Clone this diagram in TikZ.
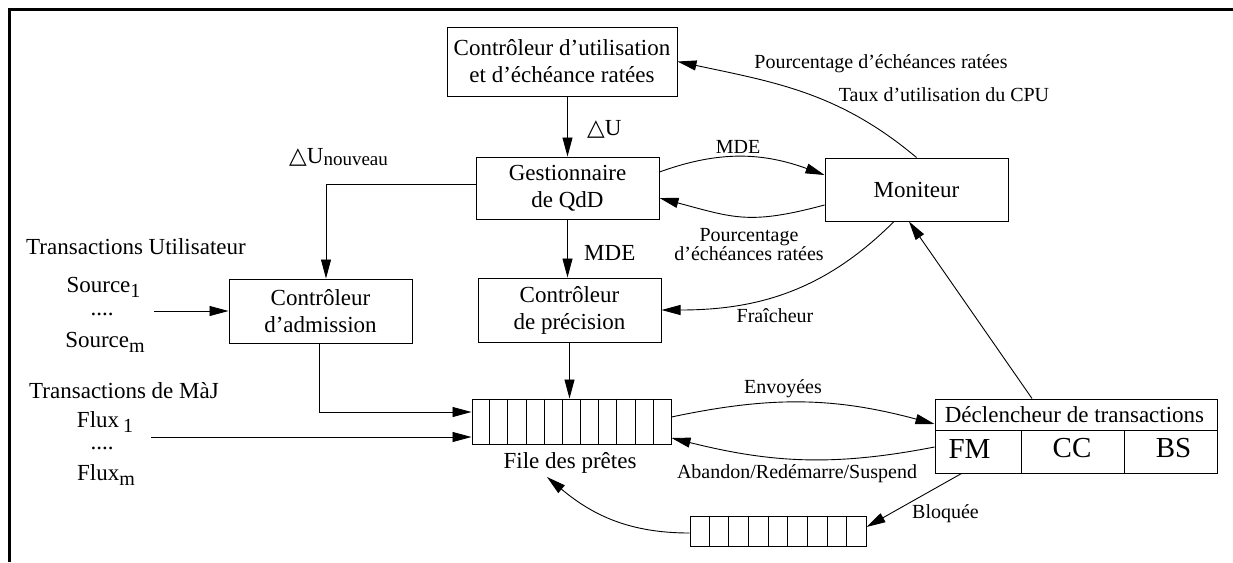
\documentclass[tikz,border=0pt]{standalone}
\usepackage{fontspec}
\setmainfont{Liberation Serif}
\newfontfamily\symf{DejaVu Sans}
\usetikzlibrary{arrows.meta,calc}
\newcommand\subt[1]{\raisebox{-5pt}{\fontsize{20}{20}\selectfont #1}}
\begin{document}
\begin{tikzpicture}[x=1pt,y=-1pt,
  box/.style={draw, line width=1pt, inner sep=0pt, align=center, font=\fontsize{23}{27}\selectfont},
  cellbox/.style={draw, line width=1pt, inner sep=0pt},
  big/.style={font=\fontsize{23}{27}\selectfont, inner sep=0pt},
  small/.style={font=\fontsize{20}{19}\selectfont, inner sep=0pt, align=center},
  huge/.style={font=\fontsize{29}{30}\selectfont, inner sep=0pt},
  arr/.style={line width=0.9pt, -{Triangle[length=19pt,width=10pt]}},
  ln/.style={line width=1pt}]
\useasboundingbox (0,0) rectangle (1233,562);
\draw[line width=3pt] (9.5,562) -- (9.5,9) -- (1233,9);

% boxes
\node[box, minimum width=230, minimum height=69] (top) at (562,61.5) {Contrôleur d’utilisation\\et d’échéance ratées};
\node[box, minimum width=183, minimum height=62] (gest) at (567.5,188) {Gestionnaire\\de QdD};
\node[box, minimum width=183, minimum height=63] (mon) at (916.5,189.5) {Moniteur};
\node[box, minimum width=183, minimum height=64] (adm) at (320.5,311) {Contrôleur\\d’admission};
\node[box, minimum width=183, minimum height=64] (pre) at (569.5,310) {Contrôleur\\de précision};

% queues
\node[cellbox, minimum width=199, minimum height=45] (q1) at (571.5,421.5) {};
\foreach \i in {1,...,10}
  \draw[ln] ($(q1.north west)!\i/11!(q1.north east)$) -- ($(q1.south west)!\i/11!(q1.south east)$);
\node[cellbox, minimum width=176, minimum height=30] (q2) at (778,531) {};
\foreach \i in {1,...,8}
  \draw[ln] ($(q2.north west)!\i/9!(q2.north east)$) -- ($(q2.south west)!\i/9!(q2.south east)$);
\node[big, anchor=base] (fileq) at (570,468) {File des prêtes};
\coordinate (fpin) at (547,477);

% trigger
\node[cellbox, minimum width=282, minimum height=74] (dec) at (1076,436) {};
\draw[ln] ($(dec.west)+(0,-6)$) -- ($(dec.east)+(0,-6)$);
\draw[ln] ($(dec.south west)+(87,0)$) -- ($(dec.west)+(87,-6)$);
\draw[ln] ($(dec.south west)+(190,0)$) -- ($(dec.west)+(190,-6)$);
\node[big, anchor=base] (dect) at (1074.5,422) {Déclencheur de transactions};
\node[huge] (fm) at (969.5,448.5) {FM};
\node[huge] (cc) at (1072,448.5) {CC};
\node[huge] (bs) at (1173.5,448.5) {BS};

% left texts
\node[big, anchor=base] (tu) at (136,254) {Transactions Utilisateur};
\node[big, anchor=base] (s1) at (103.5,292) {Source\subt{1}};
\node[big, anchor=base] (sd) at (102,315) {....};
\node[big, anchor=base] (sm) at (105,347) {Source\subt{m}};
\node[big, anchor=base] (tm) at (124,398) {Transactions de MàJ};
\node[big, anchor=base] (f1) at (105,427) {Flux\,\subt{1}};
\node[big, anchor=base] (fd) at (102,449) {....};
\node[big, anchor=base] (fmx) at (106,480) {Flux\subt{m}};
\coordinate (srcout) at (154,311);
\coordinate (fluxout) at (151,437);

% labels
\node[big, anchor=base west] (du) at (587,135) {{\symf △}U};
\node[big, anchor=base west] (dun) at (289,163) {{\symf △}U\raisebox{-2pt}{\fontsize{19}{19}\selectfont nouveau}};
\node[big, anchor=base west] (mde2) at (584,260) {MDE};
\node[small, anchor=base] (pct1) at (881,68) {Pourcentage d’échéances ratées};
\node[small, anchor=base] (taux) at (944,101) {Taux d’utilisation du CPU};
\node[small, anchor=base] (mde1) at (738,153) {MDE};
\node[small] (pct2) at (749,245) {Pourcentage\\d’échéances ratées};
\node[small, anchor=base] (fra) at (775,322) {Fraîcheur};
\node[small, anchor=base] (env) at (783,393) {Envoyées};
\node[small, anchor=base] (aban) at (797,478) {Abandon/Redémarre/Suspend};
\node[small, anchor=base] (blo) at (945.5,518) {Bloquée};

% connectors
\draw[arr] (gest.north |- top.south) -- (gest.north);
\draw[arr] ([yshift=4pt]gest.west) -| ([xshift=5.5pt]adm.north);
\draw[arr] (gest.south) -- (gest.south |- pre.north);
\draw[arr] ([xshift=-1pt]adm.south) |- ([yshift=9.5pt]q1.west);
\draw[arr] (pre.south) -- (pre.south |- q1.north);
\draw[arr] (srcout) -- (adm.west);
\draw[arr] (fluxout) -- (fluxout -| q1.west);

\draw[arr] (mon.north) to[out=140, in=-12] (top.east);
\draw[arr] ([yshift=16pt]gest.east) to[out=20, in=160] ([yshift=14.5pt]mon.west);
\draw[arr] ([yshift=-15.5pt]mon.west) to[out=195, in=-15, looseness=1.2] ([yshift=-10pt]gest.east);
\draw[arr] ([xshift=-22.5pt]mon.south) to[out=225, in=0] (pre.east);
\draw[arr] ([xshift=-44pt]dec.north) -- ([xshift=-7.5pt]mon.south);
\draw[arr] ([yshift=4.5pt]q1.east) to[out=12, in=165] ([yshift=12pt]dec.west);
\draw[arr] ([yshift=-11pt]dec.west) to[out=191, in=-14] ([yshift=-16.5pt]q1.east);
\draw[arr] ([xshift=27pt]dec.south west) -- ([yshift=4pt]q2.east);
\draw[arr] ([yshift=-2pt]q2.west) to[out=180, in=-40] (fpin);
\end{tikzpicture}
\end{document}
